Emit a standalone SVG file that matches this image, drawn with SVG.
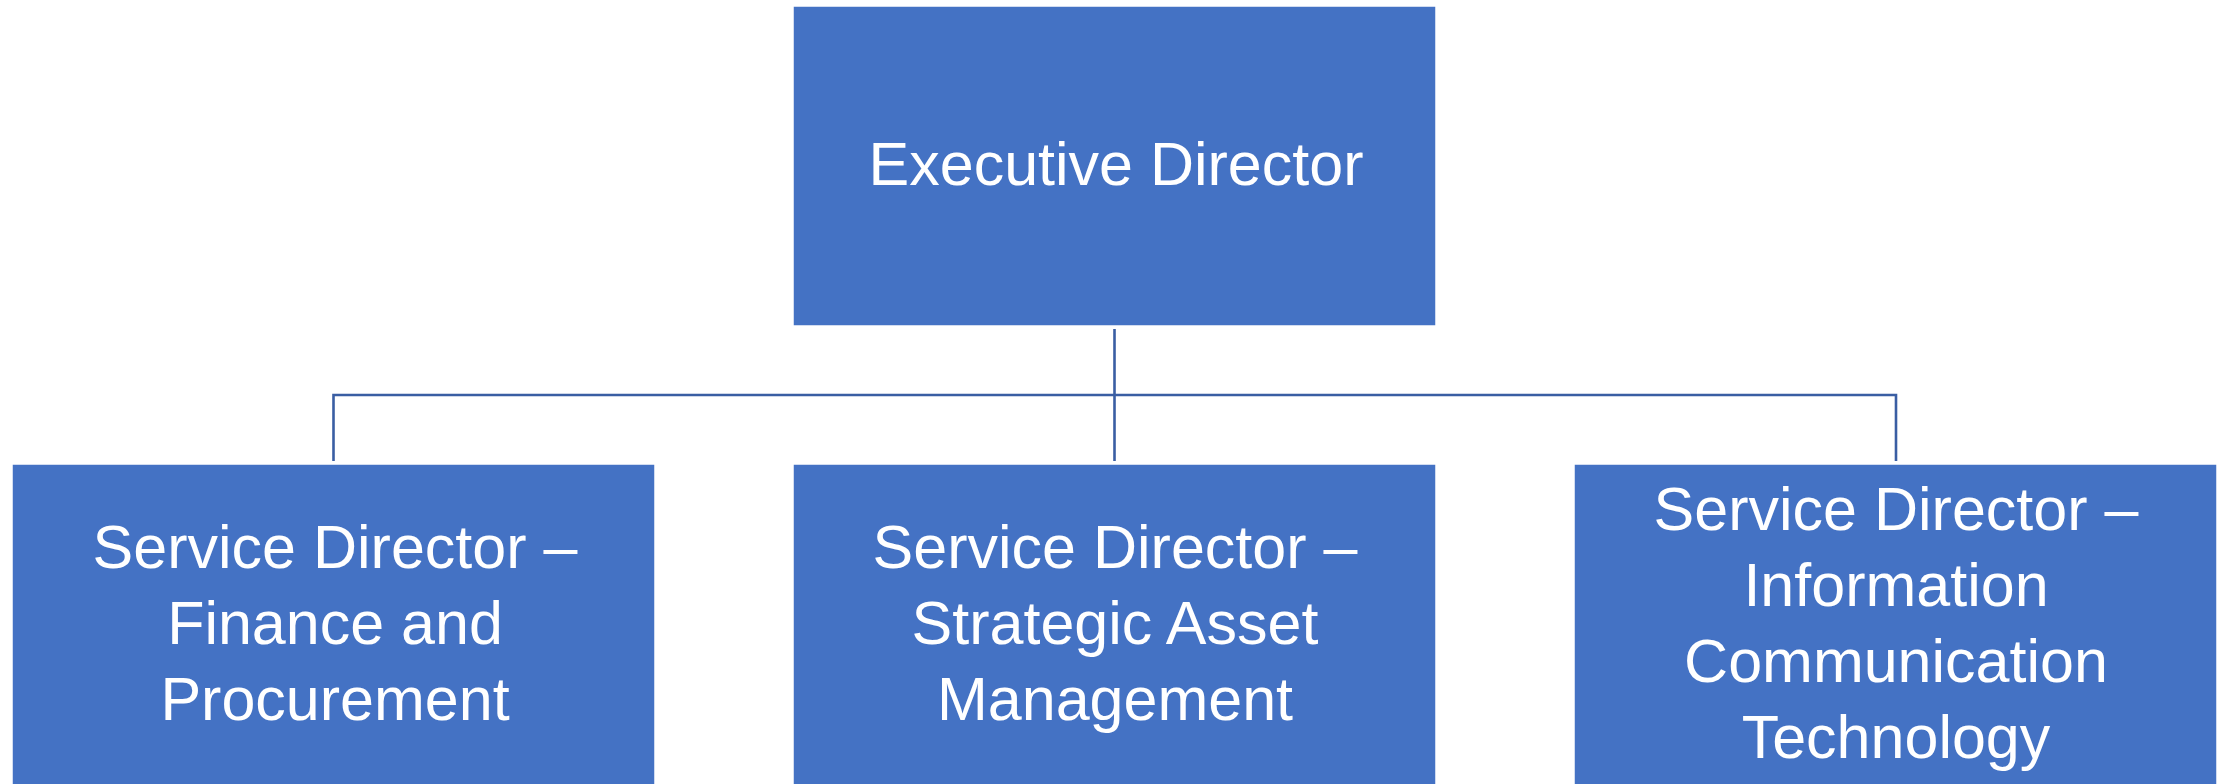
<svg xmlns="http://www.w3.org/2000/svg" width="2231" height="784" viewBox="0 0 2231 784">
<style>
.box{fill:#4472C4;stroke:#ffffff;stroke-width:1.5}
.lbl{font-family:"Liberation Sans",Arial,sans-serif;font-size:61px;fill:#ffffff;text-anchor:middle}
.conn{fill:none;stroke:#3A5EA3;stroke-width:2.6}
</style>
<rect width="2231" height="784" fill="#ffffff"/>
<g id="connectors">
<path class="conn" d="M1114.5 329 V461"/>
<path class="conn" d="M333.5 461 V395 H1896 V461"/>
</g>
<g id="executive-director">
<rect class="box" x="793" y="6" width="643" height="320"/>
<text class="lbl" x="1116" y="184.5">Executive Director</text>
</g>
<g id="sd-finance">
<rect class="box" x="12" y="464" width="643" height="322"/>
<text class="lbl" x="335" y="567.5">Service Director –</text>
<text class="lbl" x="335" y="643.8">Finance and</text>
<text class="lbl" x="335" y="720">Procurement</text>
</g>
<g id="sd-strategic">
<rect class="box" x="793" y="464" width="643" height="322"/>
<text class="lbl" x="1115" y="567.5">Service Director –</text>
<text class="lbl" x="1115" y="643.8">Strategic Asset</text>
<text class="lbl" x="1115" y="720">Management</text>
</g>
<g id="sd-ict">
<rect class="box" x="1574" y="464" width="643" height="322"/>
<text class="lbl" x="1896" y="530">Service Director –</text>
<text class="lbl" x="1896" y="605.5">Information</text>
<text class="lbl" x="1896" y="681.5">Communication</text>
<text class="lbl" x="1896" y="757.5">Technology</text>
</g>
</svg>
